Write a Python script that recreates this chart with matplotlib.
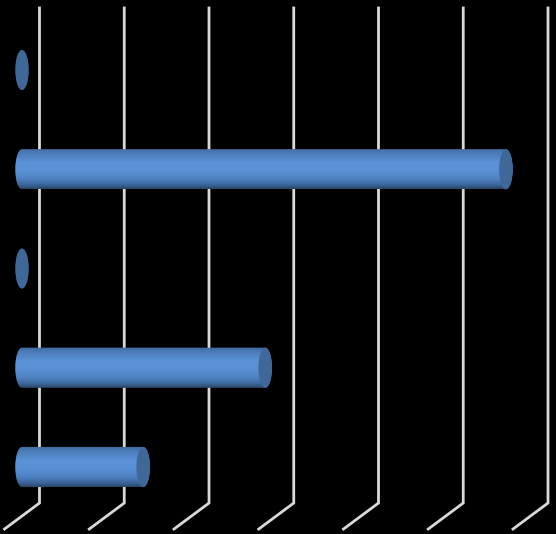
import numpy as np
import matplotlib
matplotlib.use("Agg")
import matplotlib.pyplot as plt
from matplotlib.colors import LinearSegmentedColormap
from matplotlib.patches import Ellipse, PathPatch
from matplotlib.path import Path

# bottom to top
categories = ["A", "B", "C", "D", "E"]
values = [1.43, 2.87, 0, 5.71, 0]
grid_ticks = [0, 1, 2, 3, 4, 5, 6]

# 3d look
depth_x = -0.413
front_x = depth_x / 2
bar_h = 0.405
cap_w = 0.08

# top of bar is the start of the list
bar_cmap = LinearSegmentedColormap.from_list(
    "bar", [(0, "#41699f"), (0.12, "#4c7dba"), (0.35, "#5b92d8"), (0.55, "#5a90d5"),
            (0.75, "#4f82c2"), (0.9, "#3c659a"), (1, "#294566")])

fig = plt.figure(figsize=(5.56, 5.34), dpi=100, facecolor="black")
ax = fig.add_axes([0, 0, 1, 1], facecolor="black")

# walls
for t in grid_ticks:
    ax.plot([t, t, t + depth_x], [4.625, -0.363, -0.625], color="#d9d9d9", lw=2.0,
            solid_joinstyle="miter", zorder=1)

grad = np.linspace(0, 1, 128).reshape(-1, 1)
ys = np.arange(len(categories))
for y, v in zip(ys, values):
    x0 = front_x
    x1 = front_x + v
    top = y + bar_h / 2
    bot = y - bar_h / 2
    if v > 0:
        # body outline: flat top and bottom, rounded ends
        k = 0.5523
        verts = [(x0, bot),
                 (x0 - cap_w * k, bot), (x0 - cap_w, y - bar_h / 2 * k), (x0 - cap_w, y),
                 (x0 - cap_w, y + bar_h / 2 * k), (x0 - cap_w * k, top), (x0, top),
                 (x1, top),
                 (x1 + cap_w * k, top), (x1 + cap_w, y + bar_h / 2 * k), (x1 + cap_w, y),
                 (x1 + cap_w, y - bar_h / 2 * k), (x1 + cap_w * k, bot), (x1, bot),
                 (x0, bot)]
        codes = [Path.MOVETO] + [Path.CURVE4] * 6 + [Path.LINETO] + [Path.CURVE4] * 6 + [Path.LINETO]
        body = PathPatch(Path(verts, codes), fc="none", ec="none", transform=ax.transData)
        ax.add_patch(body)
        im = ax.imshow(grad, extent=(x0 - cap_w, x1 + cap_w, bot, top), origin="upper",
                       cmap=bar_cmap, aspect="auto", zorder=3)
        im.set_clip_path(body)
    # end cap
    ax.add_patch(Ellipse((x1, y), cap_w * 2, bar_h, fc="#3f6797", ec="none", zorder=4))

ax.set_xlim(-39.5 / 84.75, (556 - 39.5) / 84.75)
ax.set_ylim(-67 / 99.25, 467 / 99.25)
ax.set_xticks([])
ax.set_yticks([])
for s in ax.spines.values():
    s.set_visible(False)

fig.savefig("out.png", dpi=100, facecolor="black")
